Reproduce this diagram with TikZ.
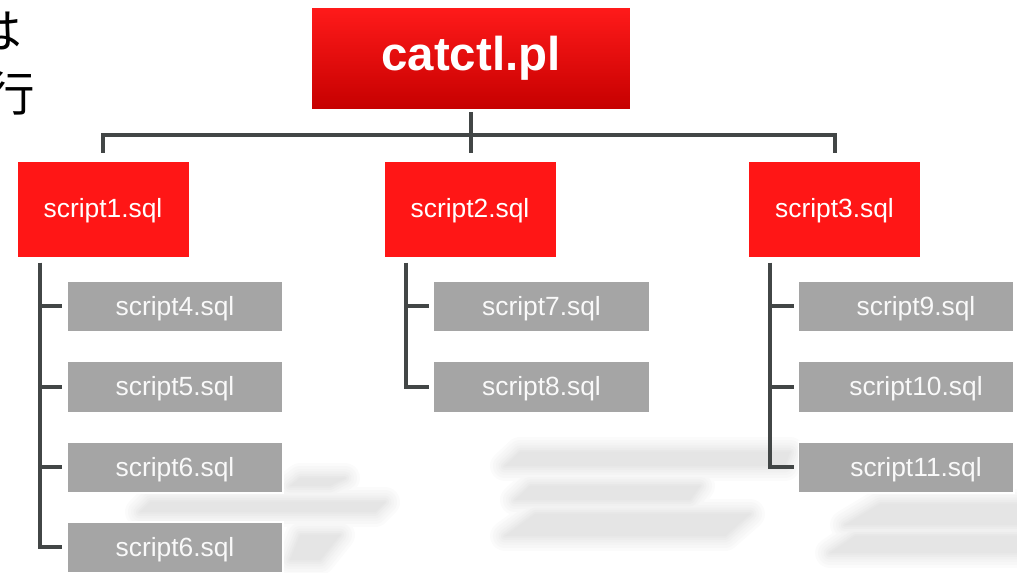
\documentclass[tikz,border=0pt]{standalone}
\usepackage{fontspec}
\setmainfont{Liberation Sans}
\newfontfamily\jpfont{Noto Sans CJK JP}
\usepackage{tikz}

\definecolor{topred}{RGB}{255,26,26}
\definecolor{lowred}{RGB}{198,0,0}
\definecolor{boxred}{RGB}{255,22,22}
\definecolor{boxgray}{RGB}{165,165,165}
\definecolor{linegray}{RGB}{66,70,70}

\tikzset{
	mainbox/.style={rectangle, top color=topred, bottom color=lowred, text=white,
		minimum width=6.36cm, minimum height=2.02cm, font=\fontsize{27}{30}\selectfont\bfseries},
	redbox/.style={rectangle, fill=boxred, text=white, draw=white, line width=0.4pt, text depth=1pt,
		minimum width=3.44cm, minimum height=1.92cm, font=\fontsize{15}{18}\selectfont},
	graybox/.style={rectangle, fill=boxgray, text=white!95!gray, draw=white, line width=0.6pt, text depth=1pt,
		minimum width=4.32cm, minimum height=1.02cm, font=\fontsize{15}{18}\selectfont},
	link/.style={draw=linegray, line width=0.08cm},
	haze/.style={line join=round},
}

% soft grey streaks under the boxes
\newcommand\streaks[1]{%
	\draw[#1] (300,478) -- (345,478) -- (330,486) -- (290,486) -- cycle;
	\draw[#1] (150,502) -- (385,502) -- (375,512) -- (140,512) -- cycle;
	\draw[#1] (300,535) -- (340,535) -- (320,560) -- (290,560) -- cycle;
	\draw[#1] (520,452) -- (790,452) -- (785,466) -- (505,466) -- cycle;
	\draw[#1] (530,486) -- (700,486) -- (690,500) -- (515,500) -- cycle;
	\draw[#1] (535,514) -- (750,514) -- (725,536) -- (505,536) -- cycle;
	\draw[#1] (880,504) -- (1030,504) -- (1030,525) -- (845,525) -- cycle;
	\draw[#1] (855,536) -- (1030,536) -- (1030,553) -- (830,553) -- cycle;}

\begin{document}
\begin{tikzpicture}[x=0.02cm, y=-0.02cm]
	\useasboundingbox (0,0) rectangle (1017,573);
	\clip (0,0) rectangle (1017,573);

	% streaks: light rim first, dark core last
	\foreach \lw/\g in {0.6/3,0.48/6,0.36/9,0.26/12,0.16/15,0.07/18} {\streaks{haze, gray!\g, line width=\lw cm}}
	\streaks{draw=none, fill=gray!20}

	% text cut off at the left edge
	\node (jp1) at (22,31) [anchor=east, font=\jpfont\fontsize{27}{30}\selectfont, inner sep=0pt] {は};
	\node (jp2) at (35,94) [anchor=east, font=\jpfont\fontsize{27}{30}\selectfont, inner sep=0pt] {行};

	\node (cat) at (471,58.5) [mainbox] {catctl.pl};

	\node (s1) at (103,209) [redbox] {script1.sql};
	\node (s2) at (470,209) [redbox] {script2.sql};
	\node (s3) at (834.5,209) [redbox] {script3.sql};

		\node (s4) at (175,306.5) [graybox] {script4.sql};
		\node (s5) at (175,387) [graybox] {script5.sql};
		\node (s6) at (175,467.5) [graybox] {script6.sql};
		\node (s6b) at (175,547.5) [graybox] {script6.sql};

		\node (s7) at (541.5,306.5) [graybox] {script7.sql};
		\node (s8) at (541.5,387) [graybox] {script8.sql};

		\node (s9) at (906,306.5) [graybox] {\hspace*{0.4cm}script9.sql};
		\node (s10) at (906,387) [graybox] {\hspace*{0.4cm}script10.sql};
		\node (s11) at (906,467.5) [graybox] {\hspace*{0.4cm}script11.sql};

	% top level links
	\coordinate (bus) at (471,135);
	\draw[link, shorten <=0.06cm] (cat) -- (bus);
	\draw[link, shorten >=0.16cm] (bus) -| (s1.north);
	\draw[link, shorten >=0.16cm] (bus) -- (bus |- s2.north);
	\draw[link, shorten >=0.16cm] (bus) -| (s3.north);

	% child links
	\coordinate (t1) at (40,263);
	\coordinate (t2) at (406,263);
	\coordinate (t3) at (770,263);
	\draw[link, shorten >=0.08cm] (t1) |- (s4.west);
	\draw[link, shorten >=0.08cm] (t1) |- (s5.west);
	\draw[link, shorten >=0.08cm] (t1) |- (s6.west);
	\draw[link, shorten >=0.08cm] (t1) |- (s6b.west);
	\draw[link, shorten >=0.08cm] (t2) |- (s7.west);
	\draw[link, shorten >=0.08cm] (t2) |- (s8.west);
	\draw[link, shorten >=0.08cm] (t3) |- (s9.west);
	\draw[link, shorten >=0.08cm] (t3) |- (s10.west);
	\draw[link, shorten >=0.08cm] (t3) |- (s11.west);
\end{tikzpicture}
\end{document}
